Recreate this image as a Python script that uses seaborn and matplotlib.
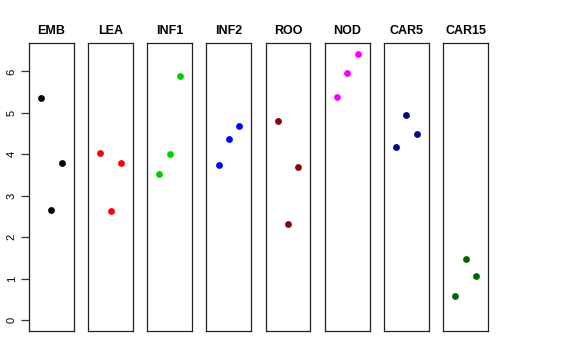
import numpy as np
import pandas as pd
import matplotlib
matplotlib.use("Agg")
import matplotlib.pyplot as plt
import seaborn as sns

# tissues and the three replicate values
tissues = ["EMB", "LEA", "INF1", "INF2", "ROO", "NOD", "CAR5", "CAR15"]
colors = ["black", "#FF0000", "#00CD00", "#0000FF", "#8B0000", "#FF00FF", "#000080", "#006400"]
rep1 = [5.36, 4.04, 3.52, 3.75, 4.80, 5.39, 4.17, 0.58]
rep2 = [2.67, 2.64, 4.01, 4.37, 2.31, 5.97, 4.94, 1.47]
rep3 = [3.78, 3.79, 5.90, 4.68, 3.70, 6.42, 4.49, 1.08]

rows = []
for i, t in enumerate(tissues):
    for r, v in zip([1, 2, 3], [rep1[i], rep2[i], rep3[i]]):
        rows.append({"tissue": t, "rep": r, "value": v})
df = pd.DataFrame(rows)

sns.set_style("white")
plt.rcParams["font.family"] = ["Liberation Sans", "DejaVu Sans"]
plt.rcParams["text.color"] = "black"
plt.rcParams["ytick.color"] = "black"

ymax = df["value"].max()
ylim = (-0.04 * ymax, ymax * 1.04)

fig, axes = plt.subplots(1, len(tissues), figsize=(5.76, 3.6), dpi=100, sharey=True)
fig.subplots_adjust(left=0.0503, right=0.8472, bottom=0.0806, top=0.8797, wspace=0.32)

for ax, t, c in zip(axes, tissues, colors):
    sub = df[df["tissue"] == t]
    sns.scatterplot(data=sub, x="rep", y="value", color=c, s=24, linewidth=0, ax=ax)
    ax.set_xlim(-0.16, 4.16)
    ax.set_ylim(*ylim)
    ax.set_xticks([])
    ax.set_xlabel("")
    ax.set_ylabel("")
    ax.set_title(t, fontsize=9, fontweight="bold", pad=6.5, color="black")
    for sp in ax.spines.values():
        sp.set_visible(True)
        sp.set_color("#222222")
        sp.set_linewidth(0.9)
    ax.tick_params(axis="y", left=False, labelleft=False)

ax0 = axes[0]
ax0.set_yticks(range(0, 7))
ax0.tick_params(axis="y", left=True, labelleft=True, length=5.8, width=0.9,
                color="#333333", labelcolor="black", labelsize=8, pad=3)
for lab in ax0.get_yticklabels():
    lab.set_rotation(90)
    lab.set_va("center")

fig.savefig("out.png", dpi=100)
